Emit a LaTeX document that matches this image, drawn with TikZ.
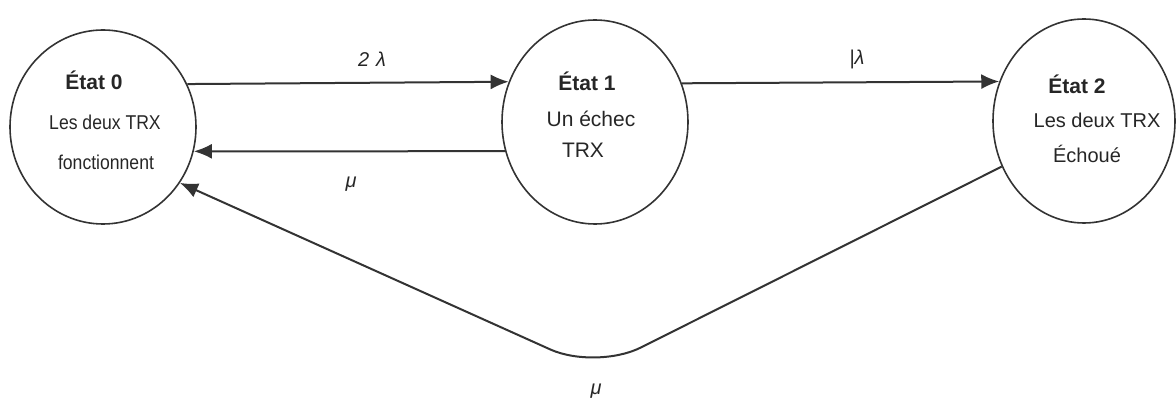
\documentclass[tikz,border=0pt]{standalone}
\usepackage{fontspec}
\setmainfont{Liberation Sans}
\newfontfamily\narrowfont[FakeStretch=0.88]{Liberation Sans}
\usetikzlibrary{shapes.geometric,arrows.meta}
\begin{document}
\begin{tikzpicture}[x=1pt,y=-1pt,
  state/.style={ellipse,draw=black!80,line width=1.6pt,inner sep=0pt},
  lbl/.style={anchor=base,inner sep=0pt,text=black!85},
  ttl/.style={lbl,font=\fontsize{21}{25}\selectfont\bfseries},
  tzero/.style={lbl,font=\fontsize{20}{24}\selectfont\narrowfont},
  tone/.style={lbl,font=\fontsize{21}{25}\selectfont},
  ttwo/.style={lbl,font=\fontsize{20}{24}\selectfont},
  rate/.style={lbl,font=\fontsize{20}{24}\selectfont\itshape},
  arr/.style={draw=black!80,line width=2pt,-{Latex[length=18pt,width=15pt]}},
  back/.style={arr,rounded corners=50pt}]
\useasboundingbox (0,0) rectangle (1176,403);
% states
\node[state,minimum width=186pt,minimum height=194pt] (s0) at (103,127) {};
\node[state,minimum width=186pt,minimum height=204pt] (s1) at (595,122) {};
\node[state,minimum width=182pt,minimum height=204pt] (s2) at (1084,121) {};
% texts
\node[ttl] (t0a) at (94,90) {État 0};
\node[tzero] (t0b) at (105,130) {Les deux TRX};
\node[tzero] (t0c) at (106,170) {fonctionnent};
\node[ttl] (t1a) at (587,91) {État 1};
\node[tone] (t1b) at (591,127) {Un échec};
\node[tone] (t1c) at (583,158) {TRX};
\node[ttl] (t2a) at (1077,94) {État 2};
\node[ttwo] (t2b) at (1097,128) {Les deux TRX};
\node[ttwo] (t2c) at (1087,163) {Échoué};
% connectors
\draw[arr] (s0.27.96) -- (s1.155.58);
\draw[arr] (s1.24.42) -- (s2.155.77);
\draw[arr] (s1.198.65) -- (s0.-15.54);
\coordinate (bend) at (596,370);
\draw[back] (s2.209.4) -- (bend) -- (s0.-36.7);
% rates
\node[rate] (r01) at (372,67) {2\hspace{7pt}λ};
\node[rate] (r12) at (857,65) {|λ};
\node[rate] (r10) at (351,188) {μ};
\node[rate] (r20) at (596,395) {μ};
\end{tikzpicture}
\end{document}
